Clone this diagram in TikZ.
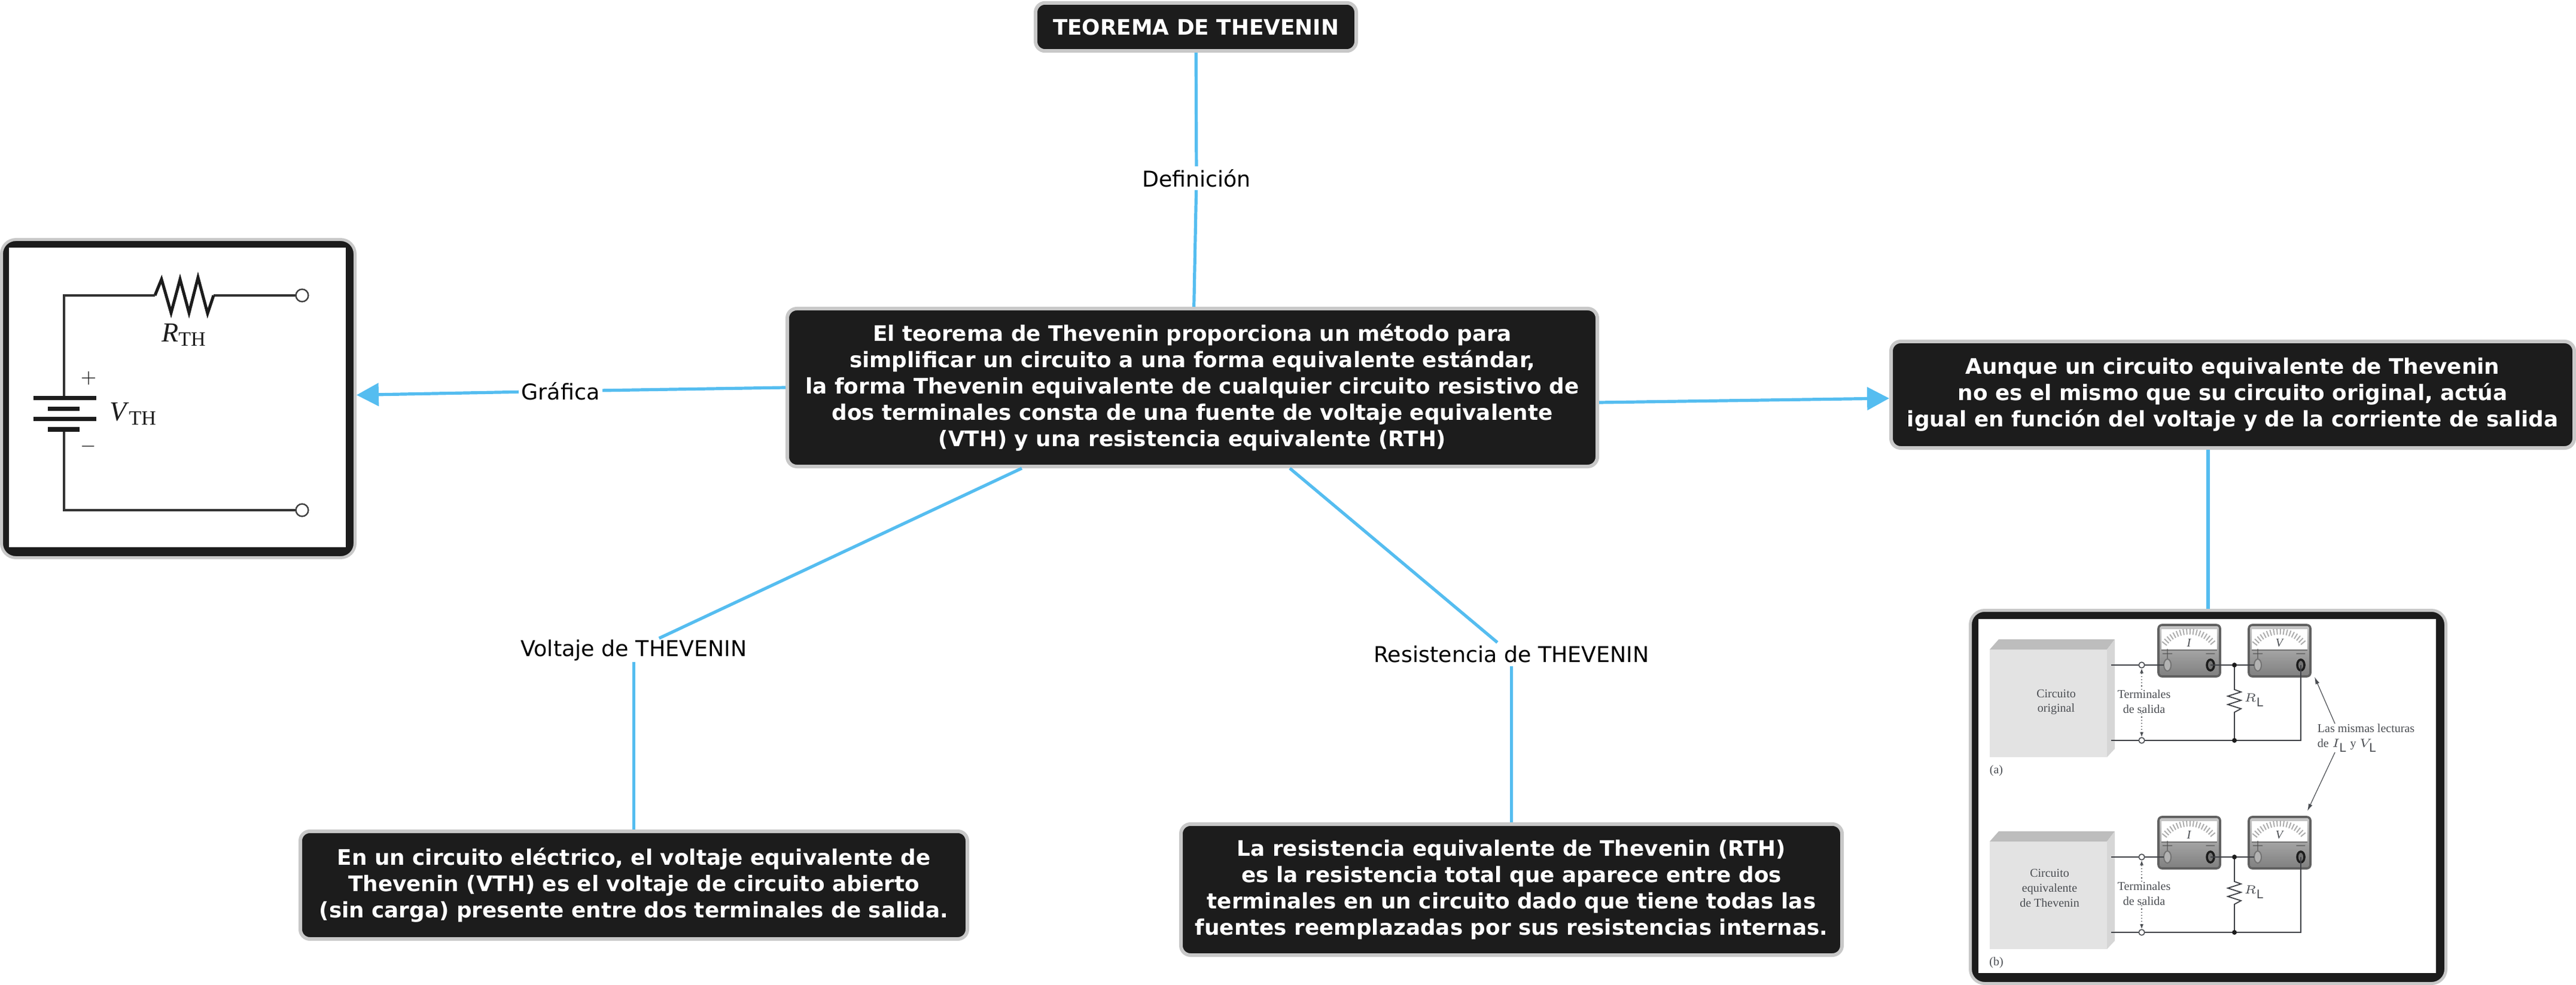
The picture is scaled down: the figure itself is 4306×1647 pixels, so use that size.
\documentclass[tikz,border=0pt]{standalone}
\usepackage{fontspec}
\setmainfont{DejaVu Sans}
\newfontfamily\figserif{Liberation Serif}
\usetikzlibrary{arrows.meta,calc,positioning}
\definecolor{oscuro}{HTML}{1C1C1C}
\definecolor{borde}{HTML}{C8C8C8}
\definecolor{enlace}{HTML}{55BDF0}
\definecolor{figtinta}{HTML}{4A4D52}
\newcommand{\magnitud}[1]{{\figserif\textit{#1}\raisebox{-.3ex}{\fontsize{8.5}{9}\selectfont TH}}}
\tikzset{
    concepto/.style={draw=borde,fill=oscuro,line width=1.5pt,rounded corners=4pt,text=white,align=center,inner sep=0pt,
        font=\fontsize{8.95}{10.95}\selectfont\bfseries},
    etiqueta/.style={fill=white,inner xsep=1pt,inner ysep=0pt,minimum height=9.5pt,font=\fontsize{9.1}{10}\selectfont},
    conector/.style={draw=enlace,line width=1.3pt},
    flecha/.style={conector,-{Triangle[length=9.25pt,width=9.5pt]}},
    marco/.style={draw=borde,fill=oscuro,line width=1.25pt,rounded corners=6pt,inner sep=0pt},
    figtexto/.style={inner sep=0pt,align=center,text=figtinta,font=\fontsize{5}{6.2}\selectfont\figserif},
    figlinea/.style={draw=figtinta!85!black,line width=.45pt},
}
\begin{document}
\begin{tikzpicture}[x=.25pt,y=-.25pt]
    \useasboundingbox (0,0) rectangle (4306,1647);
    % mapa
    \node[concepto,minimum width=134pt,minimum height=20.1pt] (titulo) at (1999,45) {TEOREMA DE THEVENIN};
    \node[concepto,minimum width=338.5pt,minimum height=66pt] (central) at (1993,648) {El teorema de Thevenin proporciona un método para\\simplificar un circuito a una forma equivalente estándar,\\la forma Thevenin equivalente de cualquier circuito resistivo de\\dos terminales consta de una fuente de voltaje equivalente\\(VTH) y una resistencia equivalente (RTH)};
    \node[concepto,minimum width=285.5pt,minimum height=44.5pt] (nota) at (3732,660) {Aunque un circuito equivalente de Thevenin\\no es el mismo que su circuito original, actúa\\igual en función del voltaje y de la corriente de salida};
    \node[concepto,minimum width=278.75pt,minimum height=45pt] (voltaje) at (1059.5,1480) {En un circuito eléctrico, el voltaje equivalente de\\Thevenin (VTH) es el voltaje de circuito abierto\\(sin carga) presente entre dos terminales de salida.};
    \node[concepto,minimum width=276.25pt,minimum height=54.75pt] (resistencia) at (2526.5,1487.5) {La resistencia equivalente de Thevenin (RTH)\\es la resistencia total que aparece entre dos\\terminales en un circuito dado que tiene todas las\\fuentes reemplazadas por sus resistencias internas.};
    \node[marco,minimum width=147.75pt,minimum height=133pt] (figcircuito) at (298,666.5) {};
    \node[marco,minimum width=198.75pt,minimum height=156pt] (figlecturas) at (3691,1332.5) {};

    \node[etiqueta] (lbldefinicion) at (2000,298) {Definición};
    \node[etiqueta] (lblgrafica) at (937,654) {Gráfica};
    \node[etiqueta] (lblvoltaje) at (1059.5,1087) {Voltaje de THEVENIN};
    \node[etiqueta] (lblresistencia) at (2526.5,1094) {Resistencia de THEVENIN};

    \draw[conector] (titulo) -- (lbldefinicion);
    \draw[conector] (lbldefinicion) -- (central);
    \draw[conector] (central.west) -- (lblgrafica);
    \draw[flecha] (lblgrafica) -- ($(figcircuito.east)+(0,-6)$);
    \draw[flecha] ($(central.east)+(0,25)$) -- ($(nota.west)+(0,6)$);
    \draw[conector] ($(central.south)+(-285,0)$) -- (lblvoltaje);
    \draw[conector] (lblvoltaje) -- (voltaje);
    \draw[conector] ($(central.south)+(163,0)$) -- (lblresistencia);
    \draw[conector] (lblresistencia) -- (resistencia);
    \draw[conector] (nota.south -| figlecturas.north) -- (figlecturas.north);

    % circuito equivalente
    \fill[white] (15,414) rectangle (578,915);
    \draw[line width=.8pt,black!80] (505,494) -- (357,494);
    \draw[line width=1.25pt,oscuro] (357,494) -- (347,524) -- (331,464) -- (316,523) -- (301,467) -- (286,523) -- (270,467) -- (259,494);
    \draw[line width=.8pt,black!80] (259,494) -- (107,494) -- (107,666);
    \draw[line width=.8pt,black!80] (107,718) -- (107,853) -- (505,853);
    \foreach \py/\pa/\pb in {666/56/161,684/80/133,701/56/161,718/80/133}
        \fill[oscuro] (\pa,\py-3.5) rectangle (\pb,\py+3.5);
    \node[circle,draw=black!75,fill=white,line width=.6pt,minimum size=5.2pt,inner sep=0pt] (bornea) at (505,494) {};
    \node[circle,draw=black!75,fill=white,line width=.6pt,minimum size=5.2pt,inner sep=0pt] (borneb) at (505,853) {};
    \node[inner sep=0pt,text=oscuro,font=\fontsize{11.5}{12}\selectfont] (rth) at (307,560) {\magnitud{R}};
    \node[inner sep=0pt,text=oscuro,font=\fontsize{11.5}{12}\selectfont] (vth) at (222,692) {\magnitud{V}};
    \node[inner sep=0pt,font=\fontsize{8}{9}\selectfont,text=black!85] (vmas) at (148,633) {$+$};
    \node[inner sep=0pt,font=\fontsize{8}{9}\selectfont,text=black!85] (vmenos) at (148,747) {$-$};

    % montaje de medida
    \fill[white] (3307,1035) rectangle (4072,1627);
    \foreach \dy/\cx/\cy/\ctexto/\pan in {0/3437/1174/{Circuito\\original}/a,321/3426/1164/{Circuito\\equivalente\\de Thevenin}/b} {
        \begin{scope}[shift={(0,\dy)}]
            \fill[black!11] (3326,1086) rectangle (3522,1266);
            \fill[black!26] (3326,1086) -- (3341,1069) -- (3535,1069) -- (3522,1086) -- cycle;
            \fill[black!16] (3522,1086) -- (3535,1069) -- (3535,1252) -- (3522,1266) -- cycle;
            \node[figtexto] (bloque\pan) at (\cx,\cy) {\ctexto};
            \node[figtexto] (parte\pan) at (3337,1289) {(\pan)};
            \foreach \mx/\letra in {3608/I,3759/V} {
                \begin{scope}[shift={(\mx,0)}]
                    \draw[draw=black!62,line width=.9pt,rounded corners=1.5pt,top color=black!22,bottom color=black!50] (0,1045) rectangle (103,1131);
                    \fill[white] (5,1052) rectangle (98,1087);
                    \foreach \a in {-142,-136,...,-38}
                        \draw[line width=.5pt,black!32] ($(51,1108)+(\a:47)$) -- ($(51,1108)+(\a:57)$);
                    \draw[line width=.5pt,black!55] (5,1087) -- (98,1087);
                    \node[inner sep=0pt,text=figtinta,font=\fontsize{5}{6}\selectfont\figserif\itshape] (dial\letra\pan) at (51,1075) {\letra};
                    \node[inner sep=0pt,text=black!70,font=\fontsize{4}{5}\selectfont] (mas\letra\pan) at (15,1093) {$+$};
                    \node[inner sep=0pt,text=black!70,font=\fontsize{4}{5}\selectfont] (menos\letra\pan) at (87,1093) {$-$};
                    \draw[draw=black!55,fill=black!30,line width=.5pt] (15,1112) ellipse [x radius=6,y radius=10];
                    \draw[draw=oscuro,fill=black!55,line width=.9pt] (87,1112) ellipse [x radius=6,y radius=9];
                \end{scope}
            }
            \draw[figlinea] (3529,1112) -- (3617,1112);
            \draw[figlinea] (3695,1112) -- (3768,1112);
            \draw[figlinea] (3529,1238) -- (3846,1238) -- (3846,1112);
            \draw[figlinea] (3735,1112) -- (3735,1153) -- (3746,1157) -- (3724,1164) -- (3746,1171) -- (3724,1178) -- (3746,1185) -- (3735,1191) -- (3735,1238);
            \fill[oscuro] (3735,1112) circle (4);
            \fill[oscuro] (3735,1238) circle (4);
            \node[circle,draw=figtinta,fill=white,line width=.4pt,minimum size=2.4pt,inner sep=0pt] (bornesup\pan) at (3580,1112) {};
            \node[circle,draw=figtinta,fill=white,line width=.4pt,minimum size=2.4pt,inner sep=0pt] (borneinf\pan) at (3580,1238) {};
            \node[figtexto] (terminales\pan) at (3584,1173) {Terminales\\de salida};
            \draw[line width=.3pt,figtinta,densely dotted,-{Latex[length=2pt,width=1.5pt]}] (terminales\pan.north -| bornesup\pan) -- (bornesup\pan);
            \draw[line width=.3pt,figtinta,densely dotted,-{Latex[length=2pt,width=1.5pt]}] (terminales\pan.south -| borneinf\pan) -- (borneinf\pan);
            \node[figtexto] (carga\pan) at (3768,1171) {$R_{\mathrm L}$};
        \end{scope}
    }
    \node[figtexto,align=left] (lecturas) at (3955,1234) {Las mismas lecturas\\de $I_{\mathrm L}$ y $V_{\mathrm L}$};
    \draw[line width=.3pt,figtinta,-{Latex[length=3pt,width=1.8pt]}] (lecturas.north -| 3903,0) -- (3869,1132);
    \draw[line width=.3pt,figtinta,-{Latex[length=3pt,width=1.8pt]}] (lecturas.south -| 3903,0) -- (3857,1356);
\end{tikzpicture}
\end{document}
